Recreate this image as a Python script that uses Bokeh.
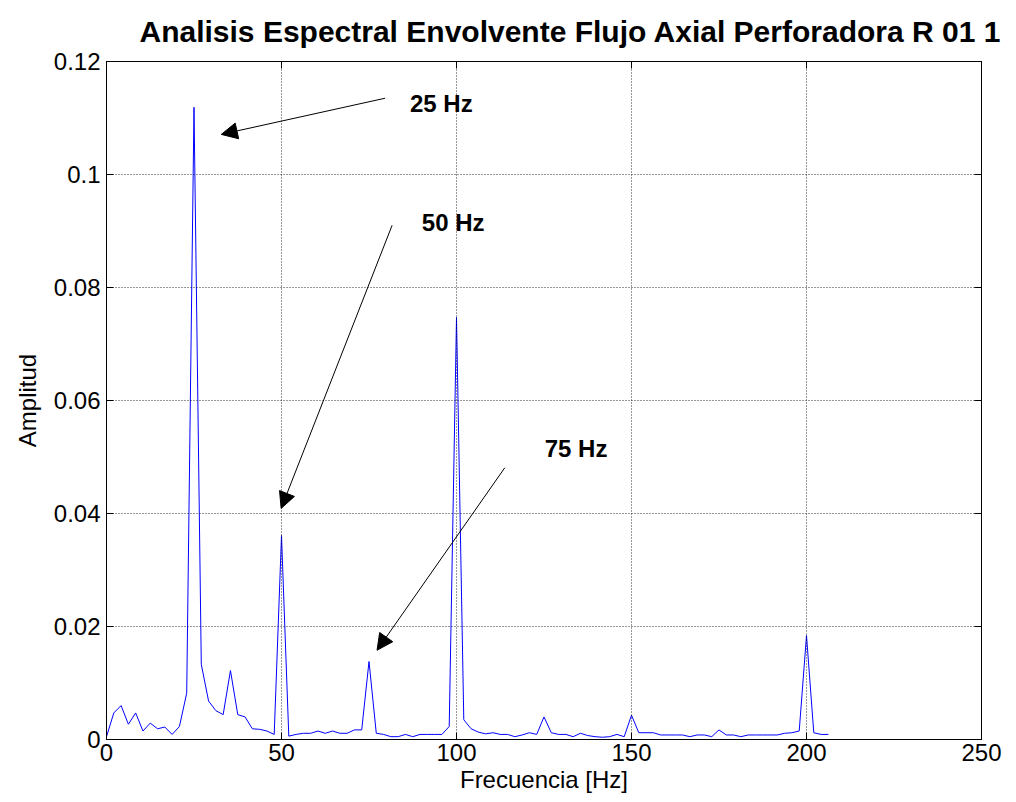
from bokeh.plotting import figure
from bokeh.models import (Range1d, FixedTicker, CustomJSTickFormatter, LinearAxis,
                          Arrow, NormalHead, Label, CustomLabelingPolicy)
from bokeh.embed import file_html
from bokeh.resources import INLINE

# ---- data ----
df = 50.0 / 24.0
freq = [i * df for i in range(100)]
amp = [
    0.0005, 0.0047, 0.0060, 0.0027, 0.0047, 0.0015, 0.0029, 0.0019, 0.0022, 0.0009,
    0.0023, 0.0082, 0.1119, 0.0133, 0.0068, 0.0051, 0.0044, 0.0122, 0.0044, 0.0040,
    0.0019, 0.0018, 0.0015, 0.0009, 0.0361, 0.0006, 0.0009, 0.0011, 0.0011, 0.0015,
    0.0011, 0.0015, 0.0011, 0.0011, 0.0017, 0.0017, 0.0138, 0.0011, 0.0009, 0.0005,
    0.0005, 0.0009, 0.0005, 0.0009, 0.0009, 0.0009, 0.0009, 0.0023, 0.0747, 0.0035,
    0.0019, 0.0013, 0.0010, 0.0012, 0.0009, 0.0009, 0.0005, 0.0008, 0.0012, 0.0009,
    0.0040, 0.0012, 0.0009, 0.0009, 0.0005, 0.0011, 0.0007, 0.0005, 0.0004, 0.0005,
    0.0009, 0.0005, 0.0043, 0.0012, 0.0012, 0.0012, 0.0008, 0.0008, 0.0008, 0.0008,
    0.0005, 0.0008, 0.0008, 0.0005, 0.0017, 0.0008, 0.0008, 0.0005, 0.0008, 0.0008,
    0.0008, 0.0008, 0.0008, 0.0011, 0.0012, 0.0015, 0.0184, 0.0012, 0.0009, 0.0009,
]
x_ticks = [0, 50, 100, 150, 200, 250]
y_ticks = [0, 0.02, 0.04, 0.06, 0.08, 0.1, 0.12]

title_text = "Analisis Espectral Envolvente Flujo Axial Perforadora R 01 1"
x_label = "Frecuencia [Hz]"
y_label = "Amplitud"

# annotations: label text, text pos, arrow start, arrow tip
ann_labels = ["25 Hz", "50 Hz", "75 Hz"]
ann_text_x = [86.7, 90.1, 125.2]
ann_text_y = [0.1126, 0.0915, 0.0515]
arrow_x_start = [79.6, 81.6, 113.8]
arrow_y_start = [0.1135, 0.0910, 0.0481]
arrow_x_end = [32.8, 49.9, 77.3]
arrow_y_end = [0.1071, 0.0409, 0.0158]

FONT = "Liberation Sans"

p = figure(width=1012, height=796, output_backend="svg", toolbar_location=None,
           x_range=Range1d(0, 250), y_range=Range1d(0, 0.12),
           min_border_left=106, min_border_right=31, min_border_top=61,
           min_border_bottom=57)
p.background_fill_color = "white"
p.border_fill_color = "white"
p.outline_line_color = "black"
p.outline_line_width = 1

p.title.text = title_text
p.title.text_font = FONT
p.title.text_font_size = "30px"
p.title.text_font_style = "bold"
p.title.text_color = "black"
p.title.align = "left"
p.title.offset = 33
p.title.standoff = 20

p.line(freq, amp, line_color="#0000FF", line_width=1)

fmt = CustomJSTickFormatter(code="return String(Math.round(tick*1000)/1000);")

for ax, ticks in ((p.xaxis[0], x_ticks), (p.yaxis[0], y_ticks)):
    ax.ticker = FixedTicker(ticks=ticks)
    ax.formatter = fmt
    ax.major_tick_in = 7
    ax.major_tick_out = 0
    ax.minor_tick_in = 0
    ax.minor_tick_out = 0
    ax.axis_line_color = "black"
    ax.major_tick_line_color = "black"
    ax.major_label_text_font = FONT
    ax.major_label_text_font_size = "24px"
    ax.major_label_text_color = "black"
    ax.axis_label_text_font = FONT
    ax.axis_label_text_font_size = "24px"
    ax.axis_label_text_font_style = "normal"
    ax.axis_label_text_color = "black"

p.xaxis[0].axis_label = x_label
p.yaxis[0].axis_label = y_label
p.xaxis[0].major_label_standoff = 4
p.yaxis[0].major_label_standoff = 6
p.xaxis[0].axis_label_standoff = 2
p.yaxis[0].axis_label_standoff = 10

hide_all = CustomLabelingPolicy(code="""
const xs = [...indices];
for (const i of xs) indices.unset(i);
return indices;
""")
top = LinearAxis(ticker=FixedTicker(ticks=x_ticks), major_tick_in=7, major_tick_out=0,
                 minor_tick_in=0, minor_tick_out=0, major_label_policy=hide_all,
                 major_label_text_font_size="1px",
                 major_label_standoff=0, axis_line_color="black")
right = LinearAxis(ticker=FixedTicker(ticks=y_ticks), major_tick_in=7, major_tick_out=0,
                   minor_tick_in=0, minor_tick_out=0, major_label_policy=hide_all,
                   major_label_text_font_size="1px",
                   major_label_standoff=0, axis_line_color="black")
p.add_layout(top, "above")
p.add_layout(right, "right")

for g in (p.xgrid[0], p.ygrid[0]):
    g.ticker = FixedTicker(ticks=x_ticks if g is p.xgrid[0] else y_ticks)
    g.grid_line_color = "black"
    g.grid_line_dash = "1 2"
    g.grid_line_width = 1
    g.grid_line_alpha = 0.8
    g.level = "overlay"

for i in range(len(ann_labels)):
    p.add_layout(Arrow(x_start=arrow_x_start[i], y_start=arrow_y_start[i],
                       x_end=arrow_x_end[i], y_end=arrow_y_end[i],
                       line_color="black", line_width=1,
                       end=NormalHead(size=16, fill_color="black", line_color="black")))
    p.add_layout(Label(x=ann_text_x[i], y=ann_text_y[i], text=ann_labels[i],
                       text_font=FONT, text_font_size="24px", text_font_style="bold",
                       text_baseline="middle", text_align="left", text_color="black"))

open("out.html", "w").write(file_html(p, INLINE))
